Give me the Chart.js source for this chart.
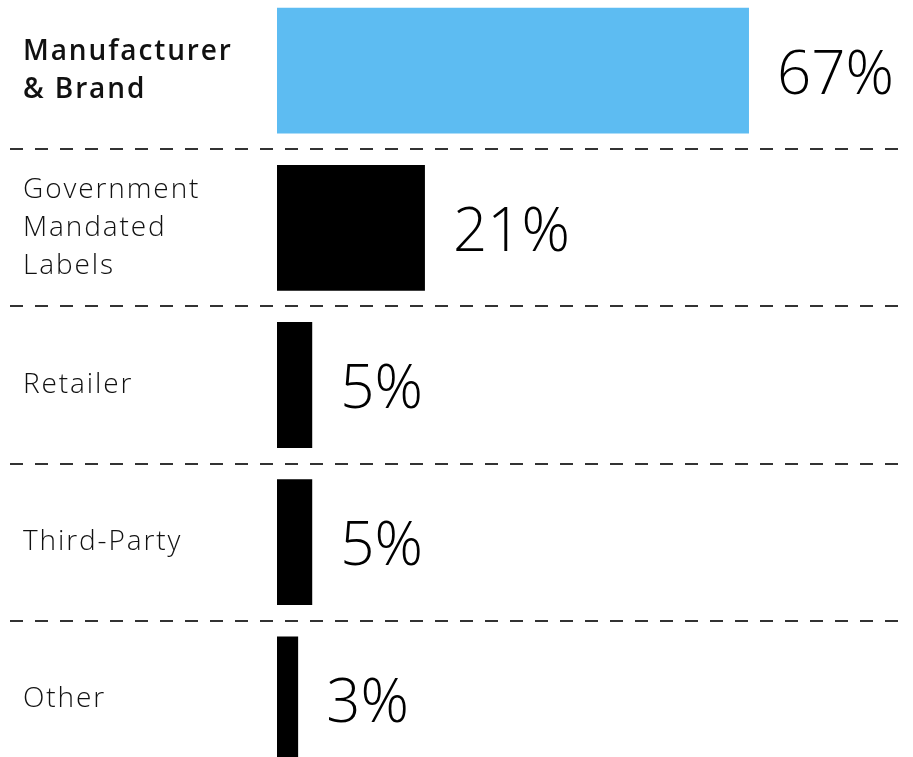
<!DOCTYPE html>
<html>
<head>
<meta charset="utf-8">
<script src="https://cdn.jsdelivr.net/npm/chart.js@4/dist/chart.umd.min.js"></script>
<style>
  html, body { margin: 0; padding: 0; background: #fff; }
  #wrap { position: relative; width: 913px; height: 757px; overflow: hidden; }
  #chart { position: absolute; left: 0; top: -8px; }
</style>
</head>
<body>
<div id="wrap"><canvas id="chart" width="913" height="786"></canvas></div>
<script>
// Source of information shoppers rely on
const categories = [
  ['Manufacturer', '& Brand'],
  ['Government', 'Mandated', 'Labels'],
  'Retailer',
  'Third-Party',
  'Other'
];
const shares = [67, 21, 5, 5, 3];
const barColors = ['#5DBCF2', '#000000', '#000000', '#000000', '#000000'];

// Dashed separators between the rows, spanning the full width
const rowSeparators = {
  id: 'rowSeparators',
  beforeDatasetsDraw(chart) {
    const y = chart.scales.y, ctx = chart.ctx;
    ctx.save();
    ctx.strokeStyle = '#333';
    ctx.lineWidth = 2;
    ctx.setLineDash([13, 12]);
    for (let i = 0; i < categories.length - 1; i++) {
      const py = Math.round((y.getPixelForTick(i) + y.getPixelForTick(i + 1)) / 2);
      ctx.beginPath();
      ctx.moveTo(10, py);
      ctx.lineTo(906, py);
      ctx.stroke();
    }
    ctx.restore();
  }
};

// Percentage text to the right of each bar
const valueLabels = {
  id: 'valueLabels',
  afterDatasetsDraw(chart) {
    const ctx = chart.ctx;
    const meta = chart.getDatasetMeta(0);
    ctx.save();
    ctx.letterSpacing = '0px';
    ctx.font = '300 60px "Open Sans"';
    ctx.fillStyle = '#000';
    ctx.textAlign = 'left';
    ctx.textBaseline = 'middle';
    meta.data.forEach((bar, i) => {
      ctx.fillText(shares[i] + '%', bar.x + 28, bar.y + 6);
    });
    ctx.restore();
  }
};

const spacing = {
  id: 'spacing',
  beforeDraw(chart) { chart.ctx.letterSpacing = '1.9px'; }
};

new Chart(document.getElementById('chart'), {
  type: 'bar',
  data: {
    labels: categories,
    datasets: [{
      data: shares,
      backgroundColor: barColors,
      borderWidth: 0,
      categoryPercentage: 0.8,
      barPercentage: 1.0
    }]
  },
  options: {
    indexAxis: 'y',
    responsive: false,
    animation: false,
    layout: { padding: { left: 23, right: 2, top: 0, bottom: 0 } },
    plugins: { legend: { display: false }, tooltip: { enabled: false } },
    scales: {
      x: {
        display: false,
        min: 0,
        max: 90
      },
      y: {
        grid: { display: false },
        border: { display: false },
        afterFit(scale) {
          scale.width = 254;
          scale.paddingTop = 0;
          scale.paddingBottom = 0;
        },
        ticks: {
          crossAlign: 'far',
          color: '#111',
          font: (c) => ({
            family: '"Open Sans"',
            size: 28,
            weight: c.index === 0 ? '600' : '300',
            lineHeight: 1.36
          })
        }
      }
    }
  },
  plugins: [spacing, rowSeparators, valueLabels]
});
</script>
</body>
</html>
